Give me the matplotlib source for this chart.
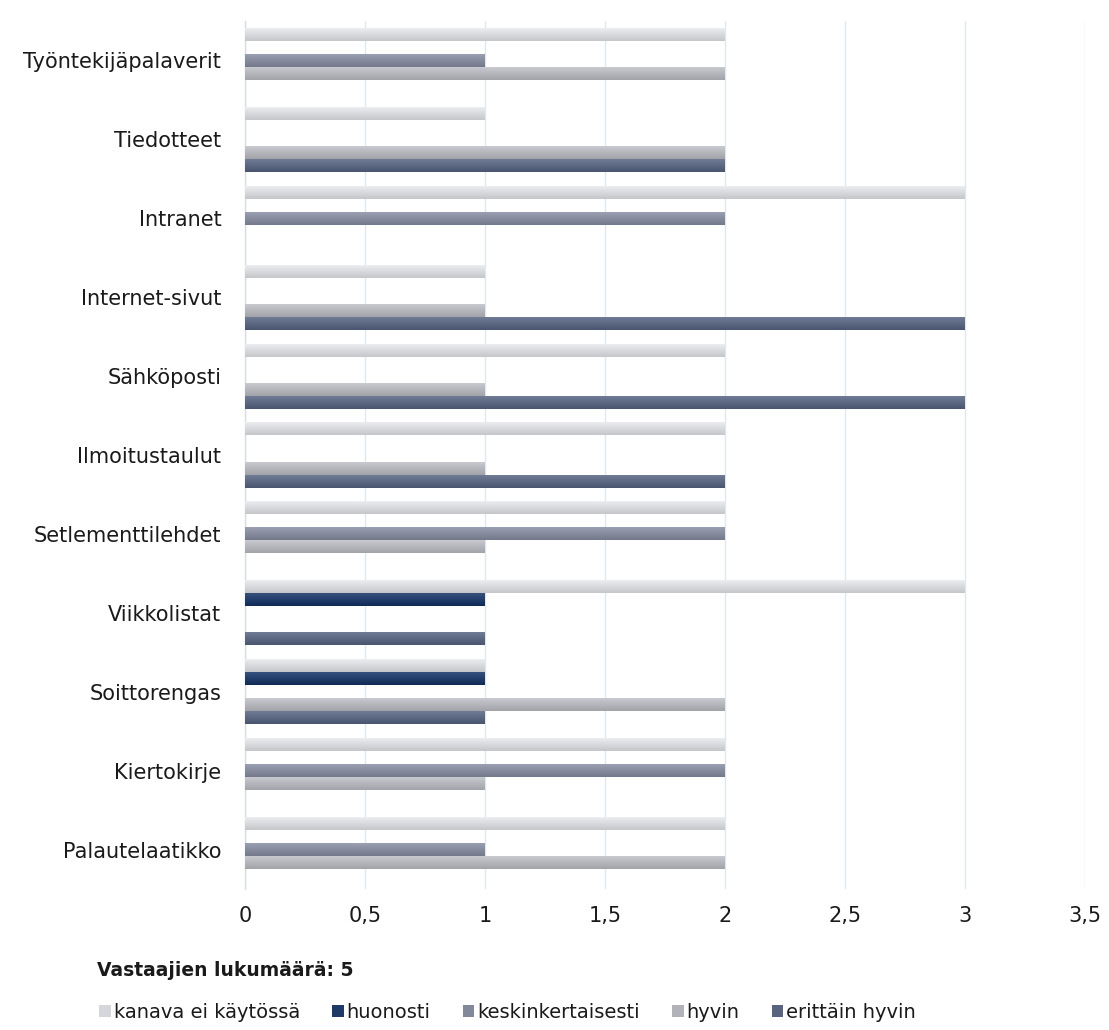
import matplotlib.pyplot as plt
import numpy as np
from matplotlib.colors import to_rgba

# channels, listed top to bottom as they appear on the chart
channels = [
    "Työntekijäpalaverit",
    "Tiedotteet",
    "Intranet",
    "Internet-sivut",
    "Sähköposti",
    "Ilmoitustaulut",
    "Setlementtilehdet",
    "Viikkolistat",
    "Soittorengas",
    "Kiertokirje",
    "Palautelaatikko",
]

series_names = ["kanava ei käytössä", "huonosti", "keskinkertaisesti", "hyvin", "erittäin hyvin"]

kanava_ei_kaytossa = [2, 1, 3, 1, 2, 2, 2, 3, 1, 2, 2]
huonosti = [0, 0, 0, 0, 0, 0, 0, 1, 1, 0, 0]
keskinkertaisesti = [1, 0, 2, 0, 0, 0, 2, 0, 0, 2, 1]
hyvin = [2, 2, 0, 1, 1, 1, 1, 0, 2, 1, 2]
erittain_hyvin = [0, 2, 0, 3, 3, 2, 0, 1, 1, 0, 0]

series_values = [kanava_ei_kaytossa, huonosti, keskinkertaisesti, hyvin, erittain_hyvin]
colors = ["#d5d6da", "#1f3a66", "#83899b", "#b2b3b8", "#59647f"]

x_ticks = [0, 0.5, 1, 1.5, 2, 2.5, 3, 3.5]
x_tick_labels = ["0", "0,5", "1", "1,5", "2", "2,5", "3", "3,5"]

respondents_label = "Vastaajien lukumäärä: 5"

text_color = "#1a1a1a"
font_size = 15

fig = plt.figure(figsize=(11.09, 10.30), dpi=100)
ax = fig.add_axes([0.2209, 0.1369, 0.7574, 0.8427])

n_cat = len(channels)
n_ser = len(series_values)
bar_h = 0.165
# category 0 is drawn at the top
cat_pos = np.arange(n_cat)[::-1].astype(float)

handles = []
for i, (vals, col, name) in enumerate(zip(series_values, colors, series_names)):
    offs = (n_ser - 1) / 2 * bar_h - i * bar_h
    bars = ax.barh(cat_pos + offs, vals, height=bar_h, color=col, label=name,
                   zorder=2, linewidth=0)
    handles.append(bars)
    # soft vertical shading on each bar
    rgba = np.array(to_rgba(col))
    top = np.clip(rgba[:3] + 0.10, 0, 1)
    bot = np.clip(rgba[:3] - 0.06, 0, 1)
    grad = np.linspace(0, 1, 16)[:, None]
    img = (top[None, :] * (1 - grad) + bot[None, :] * grad)[:, None, :]
    for p in bars.patches:
        if p.get_width() <= 0:
            continue
        x0, y0 = p.get_x(), p.get_y()
        im = ax.imshow(img, extent=[x0, x0 + p.get_width(), y0, y0 + p.get_height()],
                       origin="upper", aspect="auto", interpolation="bilinear", zorder=3)
        im.set_clip_path(p)

ax.set_xlim(0, 3.5)
ax.set_ylim(-0.5, n_cat - 0.5)
ax.set_aspect("auto")

ax.set_xticks(x_ticks)
ax.set_xticklabels(x_tick_labels)
ax.set_yticks(cat_pos)
ax.set_yticklabels(channels)
ax.tick_params(axis="both", length=0, labelsize=font_size, labelcolor=text_color)
ax.tick_params(axis="y", pad=17)
ax.tick_params(axis="x", pad=12)

ax.grid(axis="x", color="#dde9ee", linewidth=1.0, zorder=0)
ax.set_axisbelow(True)
for side in ["top", "right", "bottom"]:
    ax.spines[side].set_visible(False)
ax.spines["left"].set_color("#d9dde0")
ax.spines["left"].set_linewidth(1.0)

fig.text(0.0875, 0.058, respondents_label, fontsize=13.5, fontweight="bold",
         color=text_color, ha="left", va="center")

leg = fig.legend(handles=handles, labels=series_names, loc="lower left",
                 bbox_to_anchor=(0.077, -0.005), ncol=5, frameon=False,
                 fontsize=14, handlelength=0.6, handleheight=0.6,
                 handletextpad=0.15, columnspacing=1.65, borderpad=0.2)
for t in leg.get_texts():
    t.set_color(text_color)

fig.savefig("out.png", dpi=100, facecolor="white")
